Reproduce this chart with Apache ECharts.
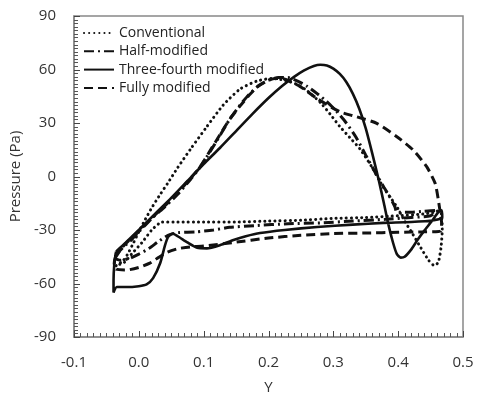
<!DOCTYPE html>
<html>
<head>
<meta charset="utf-8">
<script src="https://cdn.jsdelivr.net/npm/echarts@6/dist/echarts.min.js"></script>
<style>html,body{margin:0;padding:0;background:#fff}#c{width:480px;height:395px}</style>
</head>
<body>
<div id="c"></div>
<script>
// ---- data (Y position, Pressure in Pa) ----
var seriesNames = ['Conventional', 'Half-modified', 'Three-fourth modified', 'Fully modified'];
var xTicks = [-0.1, 0.0, 0.1, 0.2, 0.3, 0.4, 0.5];
var yTicks = [-90, -60, -30, 0, 30, 60, 90];

var convY = [-0.035,-0.025,-0.018,-0.008,0.0,0.01,0.02,0.033,0.045,0.06,0.08,0.105,0.13,0.156,0.182,0.205,0.225,0.245,0.26,0.28,0.295,0.31,0.325,0.341,0.36,0.377,0.398,0.41,0.422,0.435,0.447,0.456,0.462,0.466,0.468,0.467,0.465,0.44,0.40,0.35,0.30,0.25,0.20,0.15,0.10,0.06,0.036,0.02,0.005,-0.01,-0.022,-0.035];
var convP = [-50,-47.5,-44,-37,-31,-24,-17.5,-10,-3.5,5,15.5,28,40,49,53.5,55,54,51.5,48,41.5,35,28,22,15.5,5,-6,-17,-25,-32,-40,-47,-50,-48,-40,-30,-22,-19.5,-21,-22,-23,-23.5,-24.5,-25,-25.5,-25.5,-25.5,-25.5,-30,-37,-43,-48,-50];

var halfY = [-0.036,-0.025,-0.01,0.0,0.02,0.04,0.06,0.08,0.095,0.11,0.126,0.14,0.156,0.17,0.185,0.20,0.215,0.23,0.245,0.26,0.275,0.29,0.305,0.32,0.335,0.35,0.365,0.378,0.388,0.395,0.398,0.42,0.44,0.462,0.45,0.42,0.38,0.33,0.28,0.23,0.18,0.14,0.115,0.09,0.06,0.045,0.03,0.015,0.0,-0.015,-0.028,-0.036,-0.036];
var halfP = [-44,-40,-35,-31,-23.5,-17,-10,-1.5,5.5,14,23.5,32,40,46,51,54,55.5,55.5,53.5,50.5,46.5,42,36.5,30,22,12,2,-6,-12,-17,-20,-20,-19.5,-19,-22,-23,-24,-25,-26,-26.5,-27.5,-28.5,-30,-31,-31.5,-33,-36.5,-40.5,-43.5,-46,-47,-46,-44];

var tfY = [-0.035,-0.02,0.0,0.025,0.05,0.075,0.10,0.125,0.15,0.175,0.20,0.22,0.24,0.255,0.27,0.28,0.29,0.30,0.31,0.32,0.33,0.34,0.35,0.36,0.37,0.378,0.385,0.392,0.398,0.404,0.41,0.42,0.43,0.44,0.452,0.462,0.467,0.468,0.455,0.42,0.377,0.33,0.275,0.225,0.187,0.165,0.146,0.125,0.105,0.09,0.075,0.06,0.052,0.045,0.04,0.033,0.022,0.012,0.0,-0.02,-0.034,-0.039,-0.039,-0.038,-0.036,-0.035];
var tfP = [-42,-37,-30,-21,-12,-2.5,7,16,25.5,35,44,50.5,56,59.5,62,62.7,62.3,60.5,57.5,53,46.5,38,27,13,-2,-15,-27,-37,-43.5,-45.5,-45,-41,-35.5,-30.5,-25,-20,-19,-23,-24.5,-25.5,-26,-27,-28.3,-30,-31.7,-33.5,-35.6,-38.5,-40.3,-40,-37,-33.5,-32,-34,-39,-48.5,-57,-60.5,-61.5,-62,-62,-65,-58,-50,-44,-42];

var fullY = [-0.037,-0.025,-0.01,0.005,0.025,0.05,0.075,0.095,0.11,0.126,0.14,0.156,0.17,0.182,0.197,0.21,0.223,0.249,0.274,0.31,0.336,0.367,0.398,0.423,0.444,0.457,0.462,0.465,0.467,0.466,0.44,0.40,0.35,0.30,0.25,0.20,0.146,0.10,0.079,0.06,0.044,0.03,0.017,0.0,-0.018,-0.035,-0.038,-0.037];
var fullP = [-46,-39.5,-34,-28.5,-21.5,-13,-3,5.6,14.5,24,32,39.5,45.5,50,53.5,55,54.8,50.4,43.9,36.3,33.5,29.8,22.3,14.9,5.5,-3.8,-13.2,-20.6,-26,-30.5,-31,-31.3,-31.7,-32,-33,-34.5,-37,-39,-39.5,-40.5,-42.5,-45.5,-48.6,-51,-52.4,-52,-49,-46];

function pairs(xs, ys) { return xs.map(function (v, i) { return [v, ys[i]]; }); }

var font = '"Open Sans", "Liberation Sans", sans-serif';
var ink = '#111';
var styles = [
  { width: 3, type: [0.1, 5], cap: 'round' },
  { width: 3, type: [10, 4, 2, 4] },
  { width: 2.6, type: 'solid' },
  { width: 3, type: [9, 5] }
];
var dataSets = [pairs(convY, convP), pairs(halfY, halfP), pairs(tfY, tfP), pairs(fullY, fullP)];
var xMin = xTicks[0], xMax = xTicks[xTicks.length - 1];
var yMin = yTicks[0], yMax = yTicks[yTicks.length - 1];

var chart = echarts.init(document.getElementById('c'), null, { renderer: 'canvas' });
chart.setOption({
  animation: false,
  backgroundColor: '#fff',
  grid: { left: 74, right: 17, top: 16, bottom: 58, outerBoundsMode: 'none', containLabel: false, show: true, borderColor: '#888', borderWidth: 1.5, backgroundColor: 'transparent' },
  legend: {
    orient: 'vertical', left: 78, top: 21, itemWidth: 30, itemHeight: 14, itemGap: 4.3,
    itemStyle: { opacity: 0 },
    textStyle: { fontFamily: font, fontSize: 14, color: '#222' },
    data: seriesNames
  },
  xAxis: {
    type: 'value', min: xMin, max: xMax, interval: 0.1,
    name: 'Y', nameLocation: 'middle', nameGap: 43,
    nameTextStyle: { fontFamily: font, fontSize: 15, color: '#333' },
    axisLine: { show: true, onZero: false, lineStyle: { color: '#888', width: 1.5 } },
    axisTick: { show: false },
    minorTick: { show: false },
    splitLine: { show: false },
    axisLabel: { margin: 18, fontFamily: font, fontSize: 15, color: '#333', formatter: function (v) { return v.toFixed(1); } }
  },
  yAxis: {
    type: 'value', min: yMin, max: yMax, interval: 30,
    name: 'Pressure (Pa)', nameLocation: 'middle', nameGap: 37,
    nameTextStyle: { fontFamily: font, fontSize: 15, color: '#333' },
    axisLine: { show: true, onZero: false, lineStyle: { color: '#888', width: 1.5 } },
    axisTick: { show: false },
    minorTick: { show: false },
    splitLine: { show: false },
    axisLabel: { margin: 18, fontFamily: font, fontSize: 15, color: '#333' }
  },
  series: seriesNames.map(function (n, i) {
    return {
      name: n, type: 'line', data: dataSets[i], symbol: 'none', smooth: 0.2,
      lineStyle: { color: ink, width: styles[i].width, type: styles[i].type, cap: styles[i].cap || 'butt' },
      itemStyle: { color: ink }
    };
  })
});

// inward-pointing major and minor ticks, placed through the chart's own axis scales
var xMinorStep = 0.01, yMinorStep = 2;
var tickEls = [];
function addTick(x1, y1, x2, y2, color) {
  tickEls.push({ type: 'line', silent: true, z: 50,
    shape: { x1: x1, y1: y1, x2: x2, y2: y2 },
    style: { stroke: color, lineWidth: 1 } });
}
var origin = chart.convertToPixel({ gridIndex: 0 }, [xMin, yMin]);
var axisXpx = origin[0], axisYpx = origin[1];
var nX = Math.round((xMax - xMin) / xMinorStep);
for (var i = 0; i <= nX; i++) {
  var xv = xMin + i * xMinorStep;
  var px = Math.round(chart.convertToPixel({ xAxisIndex: 0 }, xv)) + 0.5;
  var major = (i % 10 === 0);
  addTick(px, axisYpx, px, axisYpx - (major ? 6 : 4), major ? '#444' : '#555');
}
var nY = Math.round((yMax - yMin) / yMinorStep);
for (var j = 0; j <= nY; j++) {
  var yv = yMin + j * yMinorStep;
  var py = Math.round(chart.convertToPixel({ yAxisIndex: 0 }, yv)) + 0.5;
  var majorY = (j % 15 === 0);
  addTick(axisXpx, py, axisXpx + (majorY ? 6 : 4), py, majorY ? '#444' : '#555');
}
chart.setOption({ graphic: { elements: tickEls } });
</script>
</body>
</html>
